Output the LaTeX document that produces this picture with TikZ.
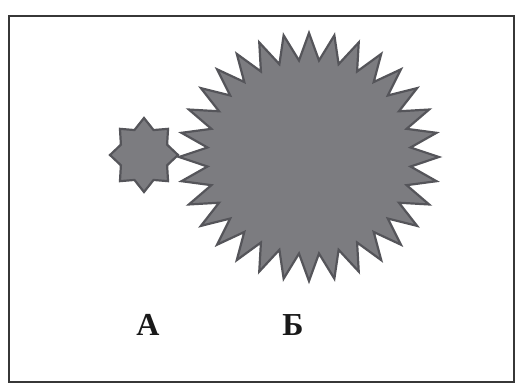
\documentclass[tikz,border=0pt]{standalone}
\usepackage{fontspec}
\setmainfont{Liberation Serif}
\definecolor{starfill}{RGB}{124,124,128}
\definecolor{staredge}{RGB}{85,85,90}
\definecolor{framecol}{RGB}{55,55,55}
\tikzset{
  starshape/.style={fill=starfill, draw=staredge, line width=2.2pt, line join=miter, miter limit=20},
  framebox/.style={draw=framecol, line width=2.6pt},
  letter/.style={font=\fontsize{32}{34}\selectfont\bfseries, text=black!90}
}
\begin{document}
\begin{tikzpicture}[x=1pt,y=-1pt]
\useasboundingbox (0,0) rectangle (530,388);
\fill[white] (0,0) rectangle (530,388);
\draw[framebox] (9,16) rectangle (514,382);
% small star A
\draw[starshape, shift={(144,155)}] (90:34 and 37)
  \foreach \i in {0,...,7}{ -- ({90+\i*45+22.5}:25 and 27) -- ({90+(\i+1)*45}:34 and 37)} -- cycle;
% big star B
\draw[starshape, shift={(309,157)}] (90:130 and 124)
  \foreach \i in {0,...,31}{ -- ({90+\i*11.25+5.625}:102 and 97) -- ({90+(\i+1)*11.25}:130 and 124)} -- cycle;
\node[letter] (A) at (148,325) {А};
\node[letter] (B) at (293,325) {Б};
\end{tikzpicture}
\end{document}
